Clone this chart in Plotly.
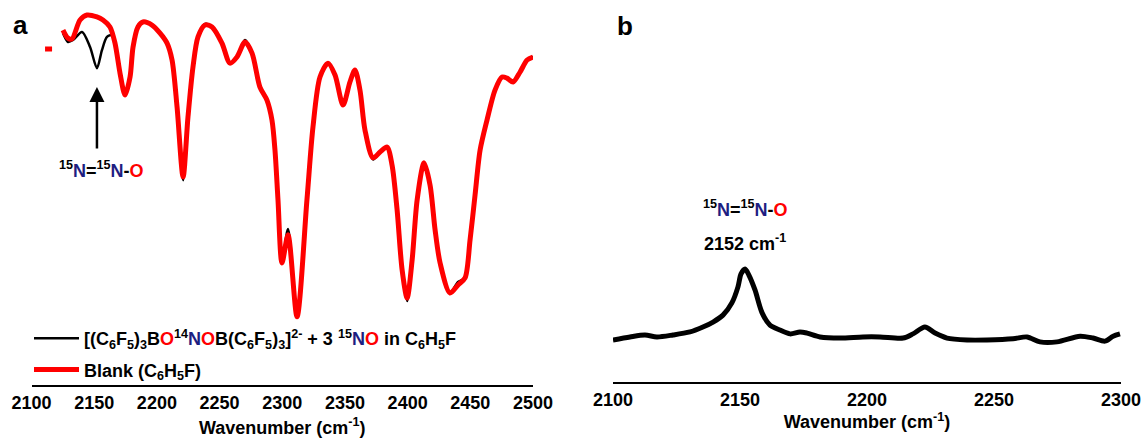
import plotly.graph_objects as go

# ---- Panel a: IR spectra, 2100-2500 cm-1 (transmittance, arbitrary %) ----
wn_blank = [2110.8, 2116.4, None,
            2125.1, 2129.1, 2132.3, 2138.7, 2144.3, 2152.2, 2157.0, 2162.6, 2166.6, 2170.6,
            2174.6, 2178.6, 2181.0, 2184.9, 2188.9, 2196.1, 2202.5, 2208.1, 2212.1, 2216.1,
            2220.9, 2224.8, 2228.8, 2232.8, 2238.4, 2244.0, 2251.9, 2258.3, 2263.9, 2270.3,
            2275.9, 2282.2, 2287.8, 2291.8, 2294.2, 2296.6, 2299.8, 2304.6, 2311.8, 2319.7,
            2324.5, 2330.1, 2336.5, 2342.1, 2348.5, 2354.0, 2358.0, 2362.0, 2366.0, 2372.4,
            2378.0, 2383.6, 2387.6, 2391.6, 2395.6, 2399.6, 2403.6, 2407.6, 2413.1, 2417.9,
            2421.9, 2425.9, 2433.8, 2440.2, 2445.8, 2449.8, 2453.8, 2457.8, 2463.3, 2469.7,
            2475.3, 2479.3, 2484.1, 2489.7, 2495.3, 2500.0]
t_blank = [87.3, 87.3, None,
           92.2, 90.1, 89.9, 94.8, 96.1, 95.6, 94.8, 93.0, 88.8, 81.0,
           75.3, 80.0, 87.8, 93.0, 94.3, 93.5, 91.4, 88.8, 84.4, 72.2,
           54.0, 69.6, 82.6, 90.4, 93.5, 93.0, 88.8, 83.6, 85.2, 89.1,
           86.2, 77.4, 74.0, 68.8, 61.0, 48.1, 31.7, 39.0, 17.7, 48.1,
           67.0, 80.0, 83.6, 80.5, 72.7, 78.7, 81.8, 76.6, 66.2, 59.0,
           60.5, 61.8, 57.1, 45.5, 29.9, 22.6, 32.5, 48.1, 57.7, 51.9,
           40.3, 31.7, 23.9, 26.0, 27.8, 37.7, 49.4, 61.0, 68.8, 76.6,
           80.0, 79.7, 78.7, 81.3, 84.4, 85.2]

wn_sample = [2125.1, 2129.1, 2133.1, 2140.3, 2146.7, 2152.2, 2156.2, 2160.2, 2164.2, 2166.6, 2170.6,
             2174.6, 2178.6, 2181.0, 2184.9, 2188.9, 2196.1, 2202.5, 2208.1, 2212.1, 2216.1,
             2220.9, 2224.8, 2228.8, 2232.8, 2238.4, 2244.0, 2251.9, 2258.3, 2263.9, 2270.3,
             2275.9, 2282.2, 2287.8, 2291.8, 2294.2, 2296.6, 2299.8, 2304.6, 2311.8, 2319.7,
             2324.5, 2330.1, 2336.5, 2342.1, 2348.5, 2354.0, 2358.0, 2362.0, 2366.0, 2372.4,
             2378.0, 2383.6, 2387.6, 2391.6, 2395.6, 2399.6, 2403.6, 2407.6, 2413.1, 2417.9,
             2421.9, 2425.9, 2433.8, 2440.2, 2445.8, 2449.8, 2453.8, 2457.8, 2463.3, 2469.7,
             2475.3, 2479.3, 2484.1, 2489.7, 2495.3, 2500.0]
t_sample = [91.4, 89.1, 89.6, 91.7, 87.8, 82.3, 87.0, 90.4, 90.9, 88.8, 81.0,
            75.3, 80.0, 87.8, 93.0, 94.3, 93.5, 91.4, 88.8, 84.4, 72.2,
            53.2, 69.6, 82.6, 90.4, 93.8, 93.0, 88.8, 83.6, 85.2, 89.6,
            86.2, 77.4, 74.0, 68.8, 61.0, 48.1, 31.7, 40.5, 17.7, 48.1,
            67.0, 80.0, 83.6, 80.5, 72.7, 78.7, 81.8, 76.6, 66.2, 58.6,
            60.5, 61.8, 57.1, 45.5, 29.9, 21.8, 32.5, 48.1, 57.7, 51.9,
            40.3, 31.7, 23.9, 26.8, 27.8, 37.7, 49.4, 61.0, 68.8, 76.6,
            80.0, 79.7, 78.7, 81.3, 84.4, 85.2]

ticks_a = [2100, 2150, 2200, 2250, 2300, 2350, 2400, 2450, 2500]

# ---- Panel b: difference spectrum, 2100-2300 cm-1 ----
wn_b = [2100.0, 2106.7, 2112.6, 2117.3, 2123.6, 2130.3, 2135.4, 2139.4, 2143.3, 2146.8,
        2149.2, 2150.4, 2152.0, 2153.5, 2155.9, 2158.7, 2161.8, 2165.7, 2169.7, 2173.6,
        2176.4, 2181.5, 2189.4, 2198.4, 2205.1, 2214.2, 2218.1, 2222.8, 2226.8, 2231.5,
        2239.4, 2247.2, 2257.5, 2263.0, 2268.1, 2274.8, 2283.9, 2289.0, 2293.7, 2296.9,
        2299.6]
a_b = [11.0, 11.8, 12.3, 11.8, 12.3, 13.1, 14.4, 15.7, 17.5, 20.7,
       24.9, 28.3, 29.6, 28.0, 24.1, 18.1, 14.9, 13.6, 12.6, 13.1,
       12.8, 11.8, 11.5, 11.8, 11.8, 11.5, 12.6, 14.4, 12.8, 11.5,
       11.0, 11.0, 11.3, 11.8, 10.5, 10.5, 12.0, 11.5, 10.7, 12.0,
       12.6]

ticks_b = [2100, 2150, 2200, 2250, 2300]
peak_b = 2152

W, H = 1145, 438
NAVY = "#1e1e82"
RED = "#ff0000"
FONT = "Liberation Sans, Arial, sans-serif"


def px_x(p):
    return p / W


def px_y(p):
    return 1 - p / H


def n(t):
    return f"<span style='color:{NAVY}'>{t}</span>"


def o(t):
    return f"<span style='color:{RED}'>{t}</span>"


n2o_label = f"<sup>15</sup>{n('N')}=<sup>15</sup>{n('N')}-{o('O')}"
sample_name = ("[(C<sub>6</sub>F<sub>5</sub>)<sub>3</sub>B" + o("O") + "<sup>14</sup>" + n("N") + o("O")
               + "B(C<sub>6</sub>F<sub>5</sub>)<sub>3</sub>]<sup>2-</sup> + 3 <sup>15</sup>" + n("N") + o("O")
               + " in C<sub>6</sub>H<sub>5</sub>F")
blank_name = "Blank (C<sub>6</sub>H<sub>5</sub>F)"

fig = go.Figure()
fig.add_trace(go.Scatter(x=wn_sample, y=t_sample, mode="lines", name=sample_name,
                         legendgroup="sample",
                         line=dict(color="black", width=2.5, shape="spline", smoothing=0.8),
                         xaxis="x", yaxis="y"))
fig.add_trace(go.Scatter(x=wn_blank, y=t_blank, mode="lines", name=blank_name,
                         legendgroup="blank",
                         line=dict(color=RED, width=5, shape="spline", smoothing=0.8),
                         xaxis="x", yaxis="y"))
fig.add_trace(go.Scatter(x=wn_b, y=a_b, mode="lines", showlegend=False,
                         line=dict(color="black", width=5, shape="spline", smoothing=0.8),
                         xaxis="x2", yaxis="y2"))

axis_common = dict(showline=True, linecolor="black", linewidth=2, showgrid=False, zeroline=False,
                   ticks="", automargin=False,
                   tickfont=dict(size=18, color="black", family=FONT, weight="bold"),
                   title_font=dict(size=18, color="black", family=FONT, weight="bold"))

fig.update_layout(
    template="none",
    width=W, height=H,
    margin=dict(l=0, r=0, t=0, b=0, pad=0, autoexpand=False),
    paper_bgcolor="white", plot_bgcolor="white",
    font=dict(family=FONT, size=18, color="black", weight="bold"),
    xaxis=dict(domain=[px_x(31.5), px_x(533)], range=[2100, 2500], tickvals=ticks_a,
               title=dict(text="Wavenumber (cm<sup>-1</sup>)", standoff=20), anchor="y",
               **axis_common),
    yaxis=dict(domain=[px_y(385), 1], range=[0, 100], visible=False, anchor="x",
               automargin=False),
    xaxis2=dict(domain=[px_x(613), px_x(1121)], range=[2100, 2300], tickvals=ticks_b,
                title=dict(text="Wavenumber (cm<sup>-1</sup>)", standoff=0), anchor="y2",
                **axis_common),
    yaxis2=dict(domain=[px_y(382), 1], range=[0, 100], visible=False, anchor="x2",
                automargin=False),
    legend=dict(x=px_x(29), y=px_y(320), xanchor="left", yanchor="top",
                bgcolor="rgba(0,0,0,0)", font=dict(size=18, family=FONT, weight="bold"),
                itemwidth=45, tracegroupgap=5),
    showlegend=True,
)

annotations = [
    dict(text="a", x=px_x(20), y=px_y(24.5), xref="paper", yref="paper", showarrow=False,
         xanchor="center", yanchor="middle", font=dict(size=26, weight="bold")),
    dict(text="b", x=px_x(625), y=px_y(26.5), xref="paper", yref="paper", showarrow=False,
         xanchor="center", yanchor="middle", font=dict(size=26, weight="bold")),
    # arrow pointing at the 15N15NO band
    dict(text="", x=2152.2, y=77.4, xref="x", yref="y", showarrow=True, ax=0, ay=63,
         axref="pixel", ayref="pixel", arrowhead=2, arrowsize=1.2, arrowwidth=2.5,
         arrowcolor="black", standoff=0),
    dict(text=n2o_label, x=px_x(101), y=px_y(170), xref="paper", yref="paper",
         xanchor="center", yanchor="middle", showarrow=False, font=dict(size=18, weight="bold")),
    dict(text=n2o_label, x=peak_b, y=px_y(208), xref="x2", yref="paper",
         xanchor="center", yanchor="middle", showarrow=False, font=dict(size=18, weight="bold")),
    dict(text=f"{peak_b} cm<sup>-1</sup>", x=peak_b, y=px_y(242), xref="x2", yref="paper",
         xanchor="center", yanchor="middle", showarrow=False, font=dict(size=18, weight="bold")),
]
fig.update_layout(annotations=annotations)

fig.write_html("out.html")
